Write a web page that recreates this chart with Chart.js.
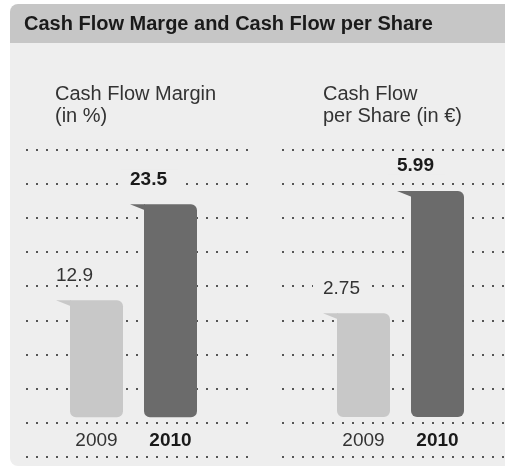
<!DOCTYPE html>
<html>
<head>
<meta charset="utf-8">
<script src="https://cdn.jsdelivr.net/npm/chart.js@4/dist/chart.umd.min.js"></script>
<style>
  html, body { margin: 0; padding: 0; overflow: hidden; background: #fff; font-family: 'Liberation Sans', Arial, sans-serif; }
  ::-webkit-scrollbar { display: none; width: 0; height: 0; }
  #page { position: fixed; left: 0; top: 0; right: 0; bottom: 0; overflow: hidden; }
  #header { position: absolute; left: 10px; top: 4px; right: -20px; height: 39px; background: #c6c6c6;
    border-top-left-radius: 8px; }
  #header span { position: absolute; left: 14px; top: 0; line-height: 39px; font-size: 20px; font-weight: bold; color: #1a1a1a; white-space: nowrap; }
  #panel { position: absolute; left: 10px; top: 43px; right: -20px; height: 423px; background: #eeeeee;
    border-bottom-left-radius: 8px; }
  .sub { position: absolute; top: 82px; font-size: 20px; line-height: 22px; color: #333; white-space: nowrap; }
  .box { position: absolute; top: 140px; width: 223px; height: 328px; }
</style>
</head>
<body>
<div id="page">
  <div id="header"><span>Cash Flow Marge and Cash Flow per Share</span></div>
  <div id="panel"></div>
  <div class="sub" style="left:55px">Cash Flow Margin<br>(in %)</div>
  <div class="sub" style="left:323px">Cash Flow<br>per Share (in €)</div>
  <div class="box" style="left:26px"><canvas id="marginChart"></canvas></div>
  <div class="box" style="left:282px"><canvas id="shareChart"></canvas></div>
</div>
<script>
'use strict';

let years = ['2009', '2010'];
let marginValues = [12.9, 23.5];
let marginLabels = ['12.9', '23.5'];
let shareValues = [2.75, 5.99];
let shareLabels = ['2.75', '5.99'];
let barColors = ['#c8c8c8', '#6b6b6b'];

const FONT = "'Liberation Sans', Arial, sans-serif";

// dotted rows, the little "ear" on each bar, value and year labels
let panelPlugin = {
  id: 'panel',
  beforeDatasetsDraw(chart) {
    let ctx = chart.ctx;
    let g = chart.scales.yGrid;
    ctx.save();
    ctx.strokeStyle = '#555';
    ctx.lineWidth = 2;
    ctx.setLineDash([2, 8]);
    for (let i = g.min; i <= g.max; i++) {
      let y = Math.round(g.getPixelForValue(i));
      ctx.beginPath();
      ctx.moveTo(0, y);
      ctx.lineTo(chart.width, y);
      ctx.stroke();
    }
    ctx.restore();
  },
  afterDatasetsDraw(chart) {
    let ctx = chart.ctx;
    let labels = chart.options.plugins.panel.labels;
    let meta = chart.getDatasetMeta(0);
    ctx.save();
    meta.data.forEach((bar, i) => {
      let left = bar.x - bar.width / 2;
      let tip = left - 14;
      let bold = i === meta.data.length - 1;

      ctx.fillStyle = barColors[i];
      ctx.beginPath();
      ctx.moveTo(tip, bar.y);
      ctx.lineTo(left + 1, bar.y);
      ctx.lineTo(left + 1, bar.y + 6);
      ctx.closePath();
      ctx.fill();

      ctx.font = (bold ? 'bold ' : '') + '19px ' + FONT;
      let w = ctx.measureText(labels[i]).width;
      let ly = bar.y - 26;
      ctx.fillStyle = '#eeeeee';
      ctx.fillRect(tip - 10, ly - 9, w + 22, 18);
      ctx.fillStyle = bold ? '#1a1a1a' : '#333';
      ctx.textAlign = 'left';
      ctx.textBaseline = 'middle';
      ctx.fillText(labels[i], tip, ly + 1);

      ctx.textAlign = 'center';
      ctx.fillText(chart.data.labels[i], bar.x, bar.base + 24);
    });
    ctx.restore();
  }
};

function renderChart(canvasId, values, labels, yMin, yMax, padLeft, padRight) {
  let data = {
    labels: years,
    datasets: [
      {
        data: values,
        backgroundColor: barColors,
        borderWidth: 0,
        borderSkipped: false,
        borderRadius: { topLeft: 0, topRight: 6, bottomLeft: 6, bottomRight: 6 },
        barPercentage: 0.716,
        categoryPercentage: 1,
      },
    ],
  };

  let config = {
    type: 'bar',
    data: data,
    plugins: [panelPlugin],
    options: {
      responsive: true,
      maintainAspectRatio: false,
      animation: false,
      layout: { padding: { left: padLeft, right: padRight, top: 10, bottom: 11 } },
      plugins: {
        legend: { display: false },
        tooltip: { enabled: false },
        panel: { labels: labels },
      },
      scales: {
        x: { display: false },
        y: { display: false, min: yMin, max: yMax },
        yGrid: { axis: 'y', type: 'linear', display: false, min: 0, max: 9 },
      },
    },
  };

  new Chart(document.getElementById(canvasId), config);
}

renderChart('marginChart', marginValues, marginLabels, -4.4, 29.5, 33.5, 41.5);
renderChart('shareChart', shareValues, shareLabels, -1.06, 7.08, 44.5, 30.5);
</script>
</body>
</html>
